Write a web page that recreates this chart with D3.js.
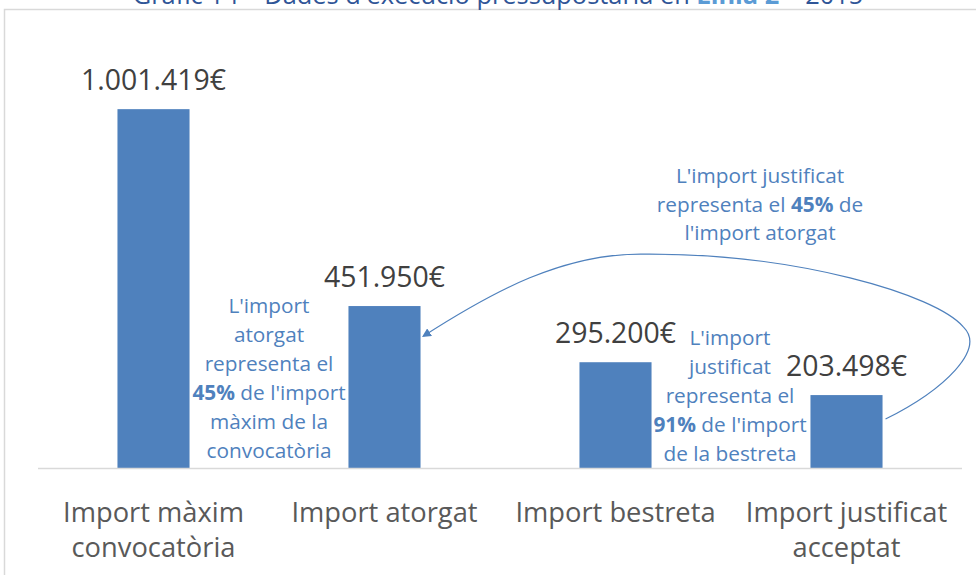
<!DOCTYPE html>
<html>
<head>
  <meta charset="utf-8">
  <title>Gràfic 14</title>
  <script src="https://d3js.org/d3.v7.min.js"></script>
  <style>
    body { margin: 0; background: #fff; }
    text { font-family: "Open Sans", "Noto Sans", sans-serif; }
  </style>
</head>
<body>
<div id="vis"></div>
<script>
// dades llegides del gràfic
var categories = [["Import màxim", "convocatòria"], ["Import atorgat"], ["Import bestreta"], ["Import justificat", "acceptat"]];
var valors = [1001419, 451950, 295200, 203498];
var etiquetes = ["1.001.419€", "451.950€", "295.200€", "203.498€"];

// notes (el tros en negreta marcat amb *)
var nota1 = ["L'import", "atorgat", "representa el", "*45%* de l'import", "màxim de la", "convocatòria"];
var nota2 = ["L'import", "justificat", "representa el", "*91%* de l'import", "de la bestreta"];
var nota3 = ["L'import justificat", "representa el *45%* de", "l'import atorgat"];

var W = 976, H = 575;
var blau = "#4f81bd";

var svg = d3.select("#vis").append("svg")
  .attr("width", W)
  .attr("height", H);

// marc del gràfic (tallat per la dreta i per baix)
svg.append("rect")
  .attr("x", 4.5).attr("y", 9.5)
  .attr("width", 990).attr("height", 600)
  .attr("fill", "none")
  .attr("stroke", "#d9d9d9")
  .attr("stroke-width", 1.5);

// títol, només se'n veu la part de baix
var tit = svg.append("text")
  .attr("x", 498).attr("y", 4)
  .attr("text-anchor", "middle")
  .attr("font-size", 25.4)
  .attr("fill", "#2f5597");
tit.append("tspan").text("Gràfic 14 – Dades d'execució pressupostària en ");
tit.append("tspan").attr("fill", "#5b9bd5").attr("font-weight", "bold").text("Línia 2");
tit.append("tspan").text(" – 2015");

var x = d3.scaleBand()
  .domain(d3.range(valors.length))
  .range([38, 962])
  .paddingInner(0.688)
  .paddingOuter(0.344);

var y = d3.scaleLinear()
  .domain([0, 1200000])
  .range([468, 38]);

svg.selectAll("rect.barra").data(valors).enter().append("rect")
  .attr("class", "barra")
  .attr("x", function(d, i) { return x(i); })
  .attr("y", function(d) { return y(d); })
  .attr("width", x.bandwidth())
  .attr("height", function(d) { return y(0) - y(d); })
  .attr("fill", blau);

// línia de base
svg.append("line")
  .attr("x1", 38).attr("x2", 962)
  .attr("y1", y(0) + 0.5).attr("y2", y(0) + 0.5)
  .attr("stroke", "#d9d9d9")
  .attr("stroke-width", 1.5);

svg.selectAll("text.valor").data(valors).enter().append("text")
  .attr("class", "valor")
  .attr("x", function(d, i) { return x(i) + x.bandwidth() / 2; })
  .attr("y", function(d) { return y(d) - 19; })
  .attr("text-anchor", "middle")
  .attr("font-size", 28.4)
  .attr("fill", "#404040")
  .text(function(d, i) { return etiquetes[i]; });

// etiquetes de l'eix
var cat = svg.selectAll("text.cat").data(categories).enter().append("text")
  .attr("class", "cat")
  .attr("text-anchor", "middle")
  .attr("font-size", 27.3)
  .attr("fill", "#595959");
cat.selectAll("tspan").data(function(d, i) { return d.map(function(t) { return {t: t, i: i}; }); })
  .enter().append("tspan")
  .attr("x", function(d) { return x(d.i) + x.bandwidth() / 2; })
  .attr("y", function(d, j) { return y(0) + 54 + j * 35; })
  .text(function(d) { return d.t; });

function nota(linies, cx, y0, pas) {
  var t = svg.append("text")
    .attr("text-anchor", "middle")
    .attr("font-size", 20.8)
    .attr("fill", blau);
  linies.forEach(function(l, j) {
    var parts = l.split("*");
    var primer = true;
    parts.forEach(function(p, k) {
      if (p === "") return;
      var s = t.append("tspan").text(p);
      if (primer) { s.attr("x", cx).attr("y", y0 + j * pas); primer = false; }
      if (k % 2 === 1) s.attr("font-weight", "bold");
    });
  });
}

var c = function(i) { return x(i) + x.bandwidth() / 2; };
nota(nota1, (c(0) + c(1)) / 2, y(0) - 10 - (nota1.length - 1) * 29, 29);
nota(nota2, (c(2) + c(3)) / 2 - 1, y(0) - 7 - (nota2.length - 1) * 29, 29);
nota(nota3, 760, 183, 28.5);

// fletxa corba de la barra 4 cap a la barra 2
svg.append("defs").append("marker")
  .attr("id", "cap")
  .attr("viewBox", "0 0 10 10")
  .attr("refX", 8).attr("refY", 5)
  .attr("markerWidth", 9).attr("markerHeight", 9)
  .attr("markerUnits", "userSpaceOnUse")
  .attr("orient", "auto")
  .append("path")
  .attr("d", "M0,0 L10,5 L0,10 z")
  .attr("fill", blau);

var ini = [x(3) + x.bandwidth() + 3, y(valors[3]) + 24];
var fi = [x(1) + x.bandwidth() + 3, y(valors[1]) + 30];
var corba = d3.path();
corba.moveTo(ini[0], ini[1]);
corba.bezierCurveTo(ini[0] + 60, ini[1] - 30, ini[0] + 100, ini[1] - 70, ini[0] + 78, ini[1] - 92);
corba.bezierCurveTo(ini[0] + 50, ini[1] - 125, ini[0] - 90, ini[1] - 166, fi[0] + 220, fi[1] - 82);
corba.bezierCurveTo(fi[0] + 140, fi[1] - 83, fi[0] + 70, fi[1] - 45, fi[0], fi[1]);

svg.append("path")
  .attr("d", corba.toString())
  .attr("fill", "none")
  .attr("stroke", blau)
  .attr("stroke-width", 1.2)
  .attr("marker-end", "url(#cap)");
</script>
</body>
</html>
